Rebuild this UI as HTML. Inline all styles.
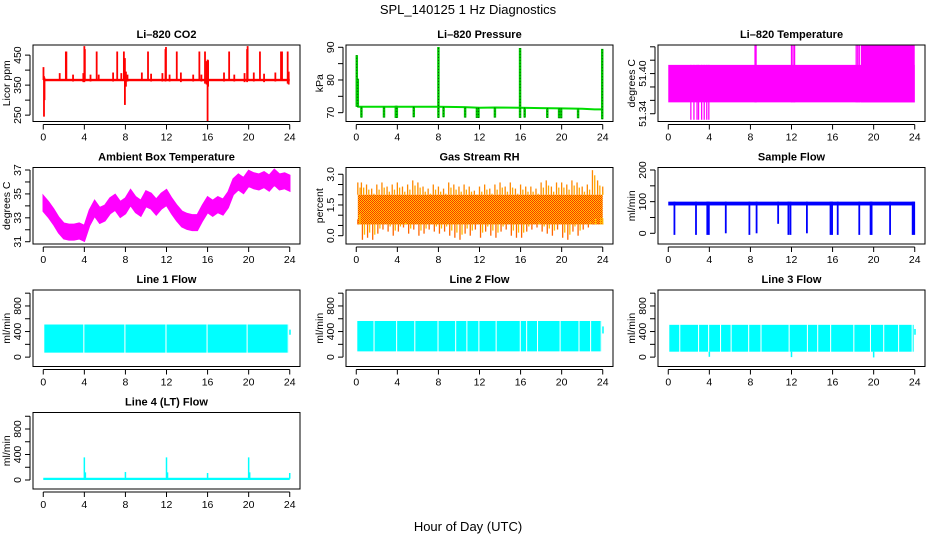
<!DOCTYPE html>
<html><head><meta charset="utf-8">
<style>
html,body{margin:0;padding:0;background:#fff;}
svg{display:block;font-family:"Liberation Sans",Arial,sans-serif;}
.tt{font-weight:bold;font-size:11px;}
.tk{font-size:10.5px;}
</style></head>
<body>
<svg id="chart" width="936" height="540" viewBox="0 0 936 540">
<defs>
<pattern id="rhpat" width="2" height="2" patternUnits="userSpaceOnUse">
<rect width="2" height="2" fill="#ffcc00"/><rect width="1" height="1" fill="#ff3000"/><rect x="1" y="1" width="1" height="1" fill="#ff3000"/>
</pattern>
</defs>
<text x="468" y="14" text-anchor="middle" font-size="13">SPL_140125  1 Hz Diagnostics</text>
<text x="468" y="531" text-anchor="middle" font-size="13">Hour of Day (UTC)</text>
</svg>
<script>
// ---- data ----
const xTicks = [0,4,8,12,16,20,24];
// CO2
const co2Base = 367;
const co2SpikeH  = [0.02,0.07,0.12,1.6,2.2,2.25,2.9,3.9,4.0,4.05,4.6,5.2,5.4,6.8,7.2,7.6,7.85,7.95,8.05,8.2,9.6,10.2,10.5,11.6,11.9,11.95,12.3,13.0,13.4,14.6,15.2,15.4,15.75,15.9,16.0,16.05,17.6,18.1,18.6,19.6,19.85,19.9,20.5,21.1,21.5,22.6,23.15,23.25,23.8,23.9];
const co2SpikeLo = [367,245,300,367,367,367,362,360,360,367,362,367,365,362,367,365,367,284,345,362,365,367,362,362,362,367,362,367,360,362,367,362,355,352,230,345,362,367,362,360,360,367,362,367,360,362,367,367,355,352];
const co2SpikeHi = [410,380,375,390,462,462,385,390,480,470,385,462,385,392,462,390,462,440,395,385,392,462,388,390,470,477,385,462,392,385,462,385,462,430,435,433,392,462,385,390,470,480,392,462,388,392,462,462,462,395];
// Pressure
const pressBaseH = [0.1,4,8,10.5,12,13.5,16,18,20,22,23.2,24];
const pressBaseV = [71.8,71.8,71.8,71.7,71.5,71.6,71.5,71.4,71.3,71.2,71.0,71.0];
const pressSpikeH  = [0.05,0.15,0.5,2.7,3.85,3.95,5.6,8.0,8.5,10.6,11.75,11.9,13.5,15.95,16.4,18.6,19.75,19.95,21.6,23.95];
const pressSpikeLo = [71.8,71.8,68.5,68.5,68.4,68.4,68.6,68.4,68.6,68.5,68.4,68.4,68.5,68.4,68.5,68.4,68.3,68.3,68.3,68.0];
const pressSpikeHi = [87.6,80.4,72,72,72.1,72.1,72,90.1,71.8,71.7,71.6,71.6,71.6,89.8,71.5,71.4,71.3,71.3,71.2,89.5];
// Li-820 temperature
const tempBandLo = 51.357, tempBandHi = 51.413, tempHighStart = 18.75, tempHighTop = 51.442;
const tempUpH  = [8.45,8.55,12.0,12.15,12.3,18.3,18.45,18.6];
const tempDownH = [2.2,2.5,2.8,2.95,3.25,3.5,3.75,3.95];
const tempUpV = 51.442, tempDownV = 51.331;
// Ambient box temperature (centre every 0.5 h)
const ambH = [0,0.5,1,1.5,2,2.5,3,3.5,4,4.5,5,5.5,6,6.5,7,7.5,8,8.5,9,9.5,10,10.5,11,11.5,12,12.5,13,13.5,14,14.5,15,15.5,16,16.5,17,17.5,18,18.5,19,19.5,20,20.5,21,21.5,22,22.5,23,23.5,24];
const ambV = [34.2,33.7,33.1,32.4,31.9,31.8,31.8,31.9,31.7,33.0,33.8,33.2,33.4,34.0,34.3,33.7,34.0,34.7,34.1,33.8,34.6,34.4,33.9,34.4,34.7,34.0,33.4,32.9,32.7,32.6,32.6,33.4,34.1,33.8,34.1,33.9,34.5,35.6,36.0,35.7,36.3,36.1,36.0,36.2,35.9,36.4,36.0,36.1,35.9];
const ambHalf = 0.65;
// Gas stream RH (every 0.5 h)
const rhBandLo = 0.55, rhBandHi = 2.0;
const rhHigh = [2.6,2.6,2.5,2.3,2.5,2.6,2.4,2.5,2.6,2.4,2.5,2.7,2.6,2.4,2.3,2.5,2.4,2.3,2.6,2.5,2.4,2.5,2.4,2.2,2.4,2.5,2.3,2.5,2.6,2.4,2.6,2.3,2.5,2.4,2.4,2.3,2.6,2.7,2.4,2.6,2.6,2.5,2.7,2.6,2.4,2.5,3.2,2.7,2.4];
const rhLow  = [0.8,-0.2,-0.1,-0.2,0.1,0.3,0.2,0.0,0.2,0.4,0.1,0.3,0.0,0.1,0.3,0.2,0.1,0.2,0.0,-0.1,-0.2,0.1,0.0,0.3,-0.1,0.2,0.0,-0.1,0.2,0.3,0.0,-0.1,-0.1,0.2,0.3,0.4,0.2,0.1,0.0,0.3,-0.1,-0.2,0.2,0.0,0.3,0.4,0.6,0.6,0.6];
// Sample flow
const sfLo = 88, sfHi = 100;
const sfDropH  = [0.6,2.7,3.8,3.95,5.6,7.9,8.6,10.7,11.7,11.9,13.5,15.8,15.95,16.5,18.6,19.7,19.8,21.6,23.8,23.95];
const sfDropLo = [-5,-5,-5,-5,0,-5,0,30,-5,-5,0,-5,-5,-5,-5,-5,-5,-5,-5,-5];
// Line flows
const l1Lo = 70, l1Hi = 510;
const l1Gaps = [3.9,7.9,11.9,15.9,19.8,23.8];
const l2Lo = 90, l2Hi = 565;
const l2Gaps = [1.68,3.88,5.65,7.91,9.63,10.72,11.89,13.57,15.92,16.54,17.6,19.8,21.64,22.77,23.8];
const l3Lo = 85, l3Hi = 505;
const l3Gaps = [1.07,2.9,3.88,5.04,6.07,7.78,8.98,11.72,13.5,14.5,15.76,18.02,19.64,20.93,22.38,23.7];
const l3DipH = [4.0,12.0,20.0];
const l3DipV = [5,0,-5];
const endSegLo = [350,370,350], endSegHi = [430,480,440];
const l4Base = 20;
const l4SpikeH = [4.0,4.1,8.0,12.0,12.1,16.0,20.0,20.1,24.0];
const l4SpikeV = [355,120,125,355,120,110,355,120,110];

// ---- layout ----
const svg = document.getElementById('chart');
const NS = 'http://www.w3.org/2000/svg';
const colL = [33,346,658], rowT = [45,167.5,290,412.5], W = 267, H = 76.5;
function el(tag, attrs, parent){ const e=document.createElementNS(NS,tag); for(const k in attrs) e.setAttribute(k,attrs[k]); (parent||svg).appendChild(e); return e; }

function panel(col,row,name,title,ylab,dom,ticks,labels){
  const L=colL[col], T=rowT[row];
  const g=el('g',{});
  
  
  const sx=h=>L+(h+1)/26*W;
  const sy=v=>T+H-(v-dom[0])/(dom[1]-dom[0])*H;
  const plot=el('g',{},g);
  
  
  const box=el('rect',{x:L,y:T,width:W,height:H,fill:'none',stroke:'#000','stroke-width':1},g);
  
  
  const t=el('text',{x:L+W/2,y:T-7,'text-anchor':'middle',class:'tt'},g); t.textContent=title;
  
  
  const xa=el('g',{stroke:'#000','stroke-width':1},g);
  
  
  const ay=T+H+3;
  el('line',{x1:sx(0),x2:sx(24),y1:ay,y2:ay},xa);
  xTicks.forEach(v=>{
    el('line',{x1:sx(v),x2:sx(v),y1:ay,y2:ay+5},xa);
    const tx=el('text',{x:sx(v),y:ay+16,'text-anchor':'middle',class:'tk',stroke:'none'},xa); tx.textContent=v;
    
    
  });
  const ya=el('g',{stroke:'#000','stroke-width':1},g);
  
  
  const axx=L-3;
  el('line',{x1:axx,x2:axx,y1:sy(ticks[0]),y2:sy(ticks[ticks.length-1])},ya);
  ticks.forEach(v=>el('line',{x1:axx-5,x2:axx,y1:sy(v),y2:sy(v)},ya));
  labels.forEach(v=>{
    const yy=sy(parseFloat(v));
    const tx=el('text',{x:axx-9,y:yy,'text-anchor':'middle',class:'tk',stroke:'none',transform:`rotate(-90 ${axx-9} ${yy})`},ya);
    tx.textContent=v;
    
    
  });
  const yl=el('text',{x:L-23,y:T+H/2,'text-anchor':'middle',class:'tk',transform:`rotate(-90 ${L-23} ${T+H/2})`},g);
  yl.textContent=ylab;
  
  
  return {sx,sy,g:plot};
}
function vline(p,h,lo,hi,color,w){ return el('line',{x1:p.sx(h),x2:p.sx(h),y1:p.sy(lo),y2:p.sy(hi),stroke:color,'stroke-width':w||1.5},p.g); }
function band(p,h0,h1,lo,hi,fill){ return el('rect',{x:p.sx(h0),y:p.sy(hi),width:p.sx(h1)-p.sx(h0),height:p.sy(lo)-p.sy(hi),fill:fill},p.g); }

// CO2
let p=panel(0,0,'co2','Li\u2013820 CO2','Licor ppm',[228.8,483.7],[250,300,350,400,450],['250','350','450']);
band(p,0,24,co2Base-4,co2Base+4,'#ff0000');
co2SpikeH.forEach((h,i)=>vline(p,h,co2SpikeLo[i],co2SpikeHi[i],'#ff0000',1.8));

// Pressure
p=panel(1,0,'pressure','Li\u2013820 Pressure','kPa',[67.3,90.7],[70,75,80,85,90],['70','80','90']);
let pts=pressBaseH.map((h,i)=>p.sx(h)+','+p.sy(pressBaseV[i])).join(' ');
el('polyline',{points:pts,fill:'none',stroke:'#00dd00','stroke-width':2},p.g);
pressSpikeH.forEach((h,i)=>{vline(p,h,pressSpikeLo[i],pressSpikeHi[i],'#00cc00',2.5); vline(p,h,pressSpikeLo[i],pressSpikeHi[i],'#000',0.6).setAttribute('stroke-dasharray','1 2');});

// Li-820 temperature
p=panel(2,0,'li820-temperature','Li\u2013820 Temperature','degrees C',[51.3284,51.4427],[51.34,51.36,51.38,51.40,51.42,51.44],['51.34','51.40']);
band(p,0,24,tempBandLo,tempBandHi,'#ff00ff');
band(p,tempHighStart,24,tempBandLo,tempHighTop,'#ff00ff');
tempUpH.forEach(h=>vline(p,h,tempBandLo,tempUpV,'#ff00ff',1.3));
tempDownH.forEach(h=>vline(p,h,tempDownV,tempBandHi,'#ff00ff',1.3));

// Ambient
p=panel(0,1,'ambient-temperature','Ambient Box Temperature','degrees C',[30.81,37.21],[31,32,33,34,35,36,37],['31','33','35','37']);
let up=ambH.map((h,i)=>p.sx(h)+','+p.sy(ambV[i]+ambHalf));
let dn=ambH.map((h,i)=>p.sx(h)+','+p.sy(ambV[i]-ambHalf)).reverse();
el('polygon',{points:up.concat(dn).join(' '),fill:'#ff00ff',stroke:'#ff00ff','stroke-width':1.5},p.g);

// RH
p=panel(1,1,'gas-stream-rh','Gas Stream RH','percent',[-0.405,3.33],[0,0.5,1,1.5,2,2.5,3],['0.0','1.5','3.0']);
band(p,0.15,24,rhBandLo,rhBandHi,'url(#rhpat)');
rhHigh.forEach((v,i)=>{const h=Math.min(24,Math.max(0.15,i*0.5)); vline(p,h,rhBandHi,v,'#ff8800',1.3); vline(p,Math.min(24,h+0.22),rhBandHi,v-0.25,'#ffaa00',1.3);});
rhLow.forEach((v,i)=>{const h=Math.min(24,Math.max(0.15,i*0.5+0.1)); vline(p,h,v,rhBandLo,'#ff6600',1.3); vline(p,Math.min(24,h+0.2),v+0.25,rhBandLo,'#ffbb00',1.3);});

// Sample flow
p=panel(2,1,'sample-flow','Sample Flow','ml/min',[-33.8,207.9],[0,50,100,150,200],['0','100','200']);
band(p,0,24,sfLo,sfHi,'#0000ff');
sfDropH.forEach((h,i)=>vline(p,h,sfDropLo[i],sfHi,'#0000ff',1.8));

// Line flows
const lineDom=[-146.6,1049.6], lineTicks=[0,200,400,600,800,1000], lineLab=['0','400','800'];
function linePanel(col,row,name,title,lo,hi,gaps,k){
  const q=panel(col,row,name,title,'ml/min',lineDom,lineTicks,lineLab);
  band(q,0.1,23.9,lo,hi,'#00ffff');
  gaps.forEach(h=>band(q,h,h+0.1,lo-5,hi+5,'#ffffff'));
  band(q,23.95,24.1,endSegLo[k],endSegHi[k],'#00ffff');
  return q;
}
linePanel(0,2,'line-1-flow','Line 1 Flow',l1Lo,l1Hi,l1Gaps,0);
linePanel(1,2,'line-2-flow','Line 2 Flow',l2Lo,l2Hi,l2Gaps,1);
p=linePanel(2,2,'line-3-flow','Line 3 Flow',l3Lo,l3Hi,l3Gaps,2);
l3DipH.forEach((h,i)=>vline(p,h,l3DipV[i],l3Lo,'#00ffff',1.5));

p=panel(0,3,'line-4-flow','Line 4 (LT) Flow','ml/min',[-141,1058.8],lineTicks,lineLab);
band(p,0,24,0,l4Base+15,'#00ffff');
l4SpikeH.forEach((h,i)=>vline(p,h,l4Base,l4SpikeV[i],'#00ffff',1.5));
</script>
</body></html>
